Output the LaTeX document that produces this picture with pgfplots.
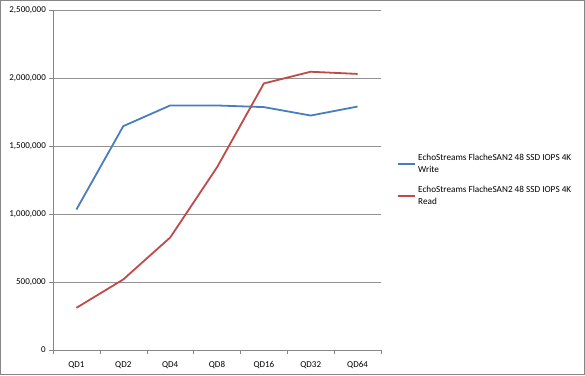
\documentclass[border=0pt]{standalone}
\usepackage{fontspec}
\setmainfont{Carlito}
\usepackage{pgfplots}
\pgfplotsset{compat=1.18}
\definecolor{xlblue}{HTML}{4A7EBB}
\definecolor{xlred}{HTML}{BE4B48}
\definecolor{xlgrid}{HTML}{868686}
\begin{document}
\fontsize{9}{11}\selectfont
\begin{tikzpicture}
\begin{axis}[
  scale only axis,
  width=328pt, height=340pt,
  xmin=-0.5, xmax=6.5,
  ymin=0, ymax=2500000,
  xtick={0,...,6},
  xticklabels={QD1,QD2,QD4,QD8,QD16,QD32,QD64},
  major x tick style={draw=none},
  minor xtick={-0.5,0.5,...,6.5},
  minor tick length=4pt,
  ytick={0,500000,...,2500000},
  major tick length=4pt,
  tick align=outside,
  axis x line*=bottom,
  axis y line*=left,
  axis line style={xlgrid, -},
  tick style={xlgrid},
  ymajorgrids,
  grid style={xlgrid!90, line width=0.6pt},
  scaled y ticks=false,
  /pgf/number format/.cd, fixed, 1000 sep={,}, assume math mode=true,
  /pgfplots/.cd,
  yticklabel style={font=\fontsize{9}{11}\selectfont},
  xticklabel style={font=\fontsize{9}{11}\selectfont, yshift=-4pt},
  clip=false,
  legend style={at={(1.04,0.5)}, anchor=west, draw=none, fill=none,
    font=\fontsize{9.2}{12}\selectfont, cells={align=left},
    row sep=8pt},
  legend cell align=left,
  legend image post style={line width=1.8pt},
]
\addplot[xlblue, line width=1.8pt] coordinates {
  (0,1033000) (1,1646000) (2,1798000) (3,1798000) (4,1786000) (5,1724000) (6,1790000)};
\addlegendentry{EchoStreams FlacheSAN2 48 SSD IOPS 4K\\Write}
\addplot[xlred, line width=1.8pt] coordinates {
  (0,310000) (1,519000) (2,827000) (3,1343000) (4,1960000) (5,2046000) (6,2030000)};
\addlegendentry{EchoStreams FlacheSAN2 48 SSD IOPS 4K\\Read}
\draw[xlgrid, line width=1pt] ([xshift=-52.5pt,yshift=-24.5pt]rel axis cs:0,0) rectangle ([xshift=203.5pt,yshift=9.5pt]rel axis cs:1,1);
\end{axis}
\end{tikzpicture}
\end{document}
